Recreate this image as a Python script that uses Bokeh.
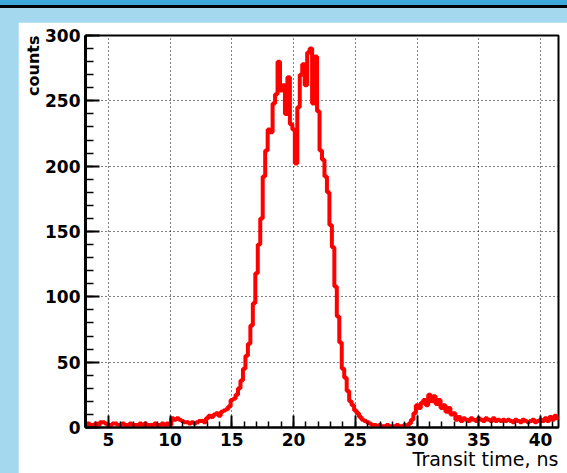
import numpy as np
from bokeh.plotting import figure
from bokeh.models import FixedTicker, Range1d, Title
from bokeh.layouts import column
from bokeh.embed import file_html
from bokeh.resources import INLINE

# histogram: bins of 0.2 ns starting at 3.1 ns
bin_lo = 3.1
bin_width = 0.2
counts = [
    2, 3, 2, 2, 3, 2, 4, 4, 3, 2,
    2, 3, 3, 2, 2, 3, 2, 2, 3, 2,
    2, 2, 3, 2, 3, 2, 2, 2, 3, 2,
    2, 3, 2, 3, 2,
    7, 6, 7, 6, 5,
    4, 4, 3, 4, 3,
    4, 5, 5, 4, 7,
    9, 8, 10, 11, 9,
    12, 13, 14, 16, 21,
    22, 25, 30, 36, 45,
    55, 64, 78, 95, 118,
    140, 160, 192, 212, 228,
    226, 248, 255, 280, 258,
    262, 240, 268, 232, 228,
    202, 245, 270, 278, 262,
    287, 290, 248, 284, 242,
    212, 205, 192, 180, 155,
    138, 108, 85, 65, 45,
    38, 28, 20, 17, 13,
    11, 8, 6, 5, 4,
    3, 2, 2, 1, 2,
    1, 1, 2, 1, 1,
    1, 2, 1, 1, 2,
    1, 3, 6, 11, 17,
    15, 19, 21, 17, 25,
    20, 24, 18, 21, 15,
    17, 12, 15, 10, 11,
    6, 8, 5, 7, 6,
    5, 7, 6, 5, 7,
    6, 5, 7, 6, 5,
    7, 5, 6, 5, 6,
    5, 6, 5, 4, 6,
    5, 4, 6, 5, 4,
    5, 6, 4, 5, 6,
    5, 7, 5, 8, 6,
    9, 7,
]
x_major = [5, 10, 15, 20, 25, 30, 35, 40]
x_minor = list(range(4, 42))
y_major = [0, 50, 100, 150, 200, 250, 300]
y_minor = list(range(0, 301, 10))
x_title = "Transit time, ns"
y_title = "counts"

edges = bin_lo + bin_width * np.arange(len(counts) + 1)
ys = counts + [counts[-1]]

p = figure(width=549, height=451, output_backend="svg", toolbar_location=None,
           x_range=Range1d(3.15, 41.45), y_range=Range1d(0, 300),
           min_border_left=67, min_border_top=13, min_border_right=9,
           min_border_bottom=46, margin=(22, 0, 0, 18))
p.background_fill_color = "white"
p.border_fill_color = "white"
p.outline_line_color = "black"
p.outline_line_width = 2

p.step(edges, ys, mode="after", line_color="#ff0000", line_width=4)

xa = p.xaxis[0]
xa.ticker = FixedTicker(ticks=x_major, minor_ticks=x_minor)
ya = p.yaxis[0]
ya.ticker = FixedTicker(ticks=y_major, minor_ticks=y_minor)
for ax in (xa, ya):
    ax.major_tick_out = 0
    ax.minor_tick_out = 0
    ax.axis_line_color = "black"
    ax.major_tick_line_color = "black"
    ax.minor_tick_line_color = "black"
    ax.major_tick_line_width = 2
    ax.minor_tick_line_width = 1.5
    ax.major_label_text_font = "DejaVu Sans"
    ax.major_label_text_font_style = "bold"
    ax.major_label_text_font_size = "17px"
    ax.major_label_text_color = "black"
    ax.major_label_standoff = 5
xa.major_tick_in = 12
xa.minor_tick_in = 6
xa.axis_line_width = 2
ya.major_tick_in = 14
ya.minor_tick_in = 8
ya.axis_line_width = 3

for g in (p.xgrid[0], p.ygrid[0]):
    g.grid_line_color = "black"
    g.grid_line_dash = "1 3"
    g.grid_line_width = 1

p.add_layout(Title(text=y_title, align="right", standoff=0, offset=0,
                   text_font="DejaVu Sans", text_font_style="bold",
                   text_font_size="16px", text_color="black"), "left")
p.add_layout(Title(text=x_title, align="right", standoff=-5, offset=0,
                   text_font="DejaVu Sans", text_font_style="normal",
                   text_font_size="19px", text_color="black"), "below")

layout = column(p, width=567, height=473, styles={
    "background": "linear-gradient(to bottom, #3fa8da 0px, #3fa8da 5px, "
                  "#000000 5px, #000000 8px, #a4d8ee 8px, #a4d8ee 100%)"})

open("out.html", "w").write(file_html(layout, INLINE))
